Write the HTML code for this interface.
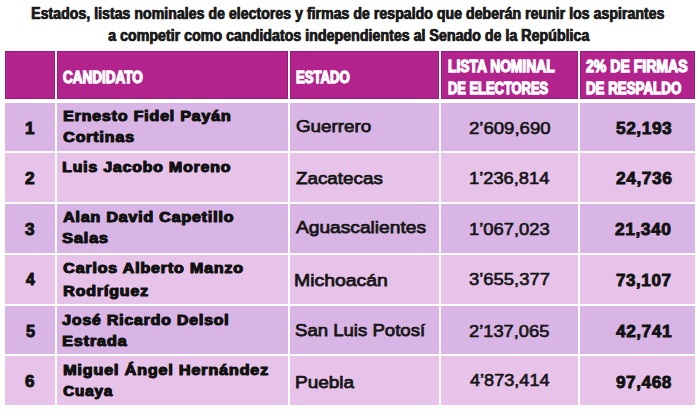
<!DOCTYPE html>
<html><head><meta charset="utf-8">
<style>
html,body{margin:0;padding:0;background:#fff;}
body{width:700px;height:416px;overflow:hidden;position:relative;font-family:"Liberation Sans",sans-serif;}
.c{position:absolute;}
.h{background:#b2238d;box-shadow:inset 0 0 0 1px #9a1a7c;}
.a{background:#d9b5e5;}
.b{background:#e7c2e9;}
.t{position:absolute;white-space:nowrap;line-height:1;transform-origin:0 0;}
.ttl{font-weight:bold;font-size:16.5px;color:#1c1c1c;-webkit-text-stroke:0.6px #1c1c1c;text-shadow:0.5px 0 0 #1c1c1c;}
.hd{font-weight:bold;font-size:16px;color:#fff;-webkit-text-stroke:1.3px #fff;}
.nm{font-weight:bold;font-size:15.5px;color:#111;letter-spacing:0.8px;-webkit-text-stroke:0.9px #111;text-shadow:0.7px 0 0 #111;}
.no{font-weight:bold;font-size:16px;color:#111;-webkit-text-stroke:0.9px #111;}
.st{font-size:17.2px;color:#151515;-webkit-text-stroke:0.75px #151515;}
.ln{font-size:16px;color:#151515;-webkit-text-stroke:0.6px #151515;}
.fm{font-weight:bold;font-size:16px;letter-spacing:0.5px;color:#111;-webkit-text-stroke:0.8px #111;}
</style></head><body>
<div class="c h" style="left:5px;top:51px;width:50px;height:48px"></div>
<div class="c h" style="left:57px;top:51px;width:231px;height:48px"></div>
<div class="c h" style="left:290px;top:51px;width:149px;height:48px"></div>
<div class="c h" style="left:441px;top:51px;width:137px;height:48px"></div>
<div class="c h" style="left:580px;top:51px;width:115px;height:48px"></div>
<div class="c a" style="left:5px;top:103px;width:50px;height:48px"></div>
<div class="c a" style="left:57px;top:103px;width:231px;height:48px"></div>
<div class="c a" style="left:290px;top:103px;width:149px;height:48px"></div>
<div class="c a" style="left:441px;top:103px;width:137px;height:48px"></div>
<div class="c a" style="left:580px;top:103px;width:115px;height:48px"></div>
<div class="c b" style="left:5px;top:153px;width:50px;height:49px"></div>
<div class="c b" style="left:57px;top:153px;width:231px;height:49px"></div>
<div class="c b" style="left:290px;top:153px;width:149px;height:49px"></div>
<div class="c b" style="left:441px;top:153px;width:137px;height:49px"></div>
<div class="c b" style="left:580px;top:153px;width:115px;height:49px"></div>
<div class="c a" style="left:5px;top:204px;width:50px;height:48.5px"></div>
<div class="c a" style="left:57px;top:204px;width:231px;height:48.5px"></div>
<div class="c a" style="left:290px;top:204px;width:149px;height:48.5px"></div>
<div class="c a" style="left:441px;top:204px;width:137px;height:48.5px"></div>
<div class="c a" style="left:580px;top:204px;width:115px;height:48.5px"></div>
<div class="c b" style="left:5px;top:254.5px;width:50px;height:49.0px"></div>
<div class="c b" style="left:57px;top:254.5px;width:231px;height:49.0px"></div>
<div class="c b" style="left:290px;top:254.5px;width:149px;height:49.0px"></div>
<div class="c b" style="left:441px;top:254.5px;width:137px;height:49.0px"></div>
<div class="c b" style="left:580px;top:254.5px;width:115px;height:49.0px"></div>
<div class="c a" style="left:5px;top:305.5px;width:50px;height:48.5px"></div>
<div class="c a" style="left:57px;top:305.5px;width:231px;height:48.5px"></div>
<div class="c a" style="left:290px;top:305.5px;width:149px;height:48.5px"></div>
<div class="c a" style="left:441px;top:305.5px;width:137px;height:48.5px"></div>
<div class="c a" style="left:580px;top:305.5px;width:115px;height:48.5px"></div>
<div class="c b" style="left:5px;top:356px;width:50px;height:49px"></div>
<div class="c b" style="left:57px;top:356px;width:231px;height:49px"></div>
<div class="c b" style="left:290px;top:356px;width:149px;height:49px"></div>
<div class="c b" style="left:441px;top:356px;width:137px;height:49px"></div>
<div class="c b" style="left:580px;top:356px;width:115px;height:49px"></div>
<div id="t1" class="t ttl" style="left:30.96px;top:5.07px;transform:scaleX(0.8590)">Estados, listas nominales de electores y firmas de respaldo que deberán reunir los aspirantes</div>
<div id="t2" class="t ttl" style="left:107.54px;top:26.85px;transform:scaleX(0.8631)">a competir como candidatos independientes al Senado de la República</div>
<div id="h1" class="t hd" style="left:62.79px;top:69.62px;transform:scaleX(0.8448)">CANDIDATO</div>
<div id="h2" class="t hd" style="left:296.12px;top:69.68px;transform:scaleX(0.8223)">ESTADO</div>
<div id="h3" class="t hd" style="left:448.02px;top:58.64px;transform:scaleX(0.8626)">LISTA NOMINAL</div>
<div id="h4" class="t hd" style="left:447.60px;top:80.68px;transform:scaleX(0.8066)">DE ELECTORES</div>
<div id="h5" class="t hd" style="left:585.52px;top:58.64px;transform:scaleX(0.8790)">2% DE FIRMAS</div>
<div id="h6" class="t hd" style="left:585.68px;top:80.68px;transform:scaleX(0.8327)">DE RESPALDO</div>
<div id="no0" class="t no" style="left:24.75px;top:120.60px;transform:scaleX(1.0685)">1</div>
<div id="na0" class="t nm" style="left:62.75px;top:108.44px;transform:scaleX(1.0303)">Ernesto Fidel Payán</div>
<div id="nb0" class="t nm" style="left:63.19px;top:129.08px;transform:scaleX(1.0345)">Cortinas</div>
<div id="st0" class="t st" style="left:295.62px;top:117.88px;transform:scaleX(1.0938)">Guerrero</div>
<div id="ln0" class="t ln" style="left:468.68px;top:121.28px;transform:scaleX(1.1611)">2’609,690</div>
<div id="fm0" class="t fm" style="left:615.78px;top:121.36px;transform:scaleX(1.0836)">52,193</div>
<div id="no1" class="t no" style="left:25.46px;top:171.04px;transform:scaleX(1.0801)">2</div>
<div id="na1" class="t nm" style="left:61.76px;top:159.32px;transform:scaleX(1.0240)">Luis Jacobo Moreno</div>
<div id="st1" class="t st" style="left:296.17px;top:169.80px;transform:scaleX(1.0949)">Zacatecas</div>
<div id="ln1" class="t ln" style="left:468.94px;top:171.19px;transform:scaleX(1.1430)">1’236,814</div>
<div id="fm1" class="t fm" style="left:615.50px;top:171.13px;transform:scaleX(1.0863)">24,736</div>
<div id="no2" class="t no" style="left:25.17px;top:222.01px;transform:scaleX(1.0727)">3</div>
<div id="na2" class="t nm" style="left:62.76px;top:208.52px;transform:scaleX(1.0312)">Alan David Capetillo</div>
<div id="nb2" class="t nm" style="left:62.15px;top:229.88px;transform:scaleX(1.0510)">Salas</div>
<div id="st2" class="t st" style="left:296.16px;top:219.48px;transform:scaleX(1.1153)">Aguascalientes</div>
<div id="ln2" class="t ln" style="left:468.87px;top:222.08px;transform:scaleX(1.1492)">1’067,023</div>
<div id="fm2" class="t fm" style="left:615.47px;top:222.48px;transform:scaleX(1.0883)">21,340</div>
<div id="no3" class="t no" style="left:25.94px;top:272.41px;transform:scaleX(0.9868)">4</div>
<div id="na3" class="t nm" style="left:63.17px;top:259.54px;transform:scaleX(1.0342)">Carlos Alberto Manzo</div>
<div id="nb3" class="t nm" style="left:62.68px;top:282.86px;transform:scaleX(1.0341)">Rodríguez</div>
<div id="st3" class="t st" style="left:294.35px;top:271.50px;transform:scaleX(1.1297)">Michoacán</div>
<div id="ln3" class="t ln" style="left:469.40px;top:272.44px;transform:scaleX(1.1516)">3’655,377</div>
<div id="fm3" class="t fm" style="left:615.94px;top:273.42px;transform:scaleX(1.0675)">73,107</div>
<div id="no4" class="t no" style="left:25.65px;top:323.66px;transform:scaleX(1.0220)">5</div>
<div id="na4" class="t nm" style="left:62.19px;top:311.78px;transform:scaleX(1.0243)">José Ricardo Delsol</div>
<div id="nb4" class="t nm" style="left:61.77px;top:332.94px;transform:scaleX(1.0449)">Estrada</div>
<div id="st4" class="t st" style="left:295.15px;top:322.12px;transform:scaleX(1.0807)">San Luis Potosí</div>
<div id="ln4" class="t ln" style="left:468.68px;top:323.52px;transform:scaleX(1.1424)">2’137,065</div>
<div id="fm4" class="t fm" style="left:616.33px;top:323.67px;transform:scaleX(1.0791)">42,741</div>
<div id="no5" class="t no" style="left:25.03px;top:374.08px;transform:scaleX(1.0640)">6</div>
<div id="na5" class="t nm" style="left:63.11px;top:362.44px;transform:scaleX(1.0416)">Miguel Ángel Hernández</div>
<div id="nb5" class="t nm" style="left:63.25px;top:382.98px;transform:scaleX(0.9896)">Cuaya</div>
<div id="st5" class="t st" style="left:294.72px;top:373.84px;transform:scaleX(1.1054)">Puebla</div>
<div id="ln5" class="t ln" style="left:469.72px;top:372.90px;transform:scaleX(1.1321)">4’873,414</div>
<div id="fm5" class="t fm" style="left:615.57px;top:374.78px;transform:scaleX(1.0770)">97,468</div>
</body></html>
